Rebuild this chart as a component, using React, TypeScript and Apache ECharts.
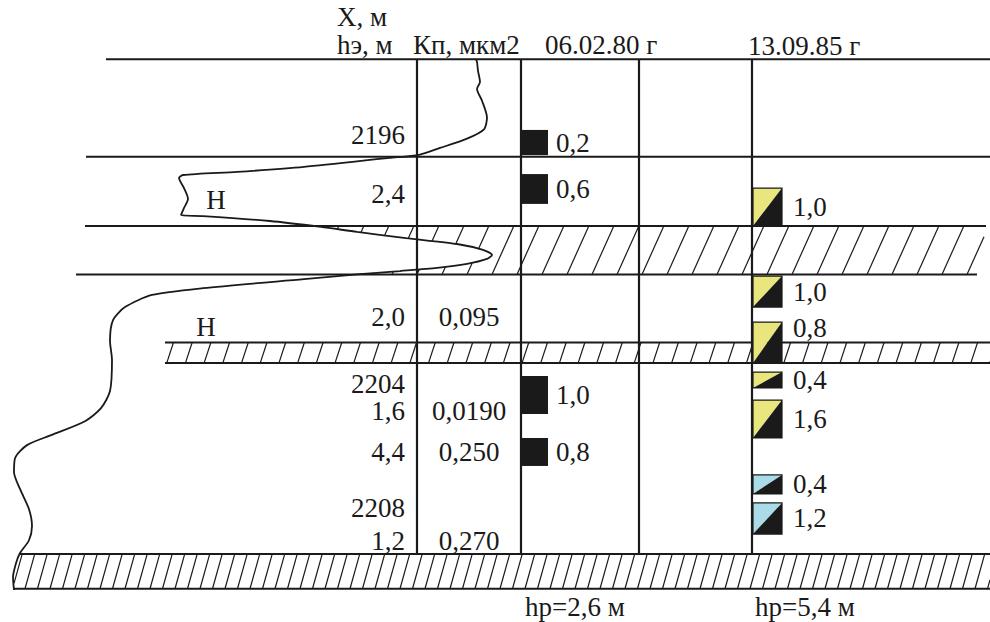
import { useEffect, useRef } from "react";
import * as echarts from "echarts";

// ---------- data ----------

// depth scale, m
const DEPTH_TOP = 2191.65;
const DEPTH_BOTTOM = 2211.66;
const depthMarks = [2196, 2200, 2204, 2208];

// layer boundaries drawn across the section, m
const boundaryDepths = [2193.56, 2196.69, 2198.92, 2200.48, 2202.67, 2203.33, 2209.47, 2210.59];

// dense (impermeable) interlayers, top and bottom, m
const denseTops = [2198.92, 2202.67, 2209.47];
const denseBottoms = [2200.48, 2203.33, 2210.59];

// reservoir intervals: effective thickness hэ and permeability Кп
const intervalDepths = [2197.88, 2201.85, 2204.88, 2206.19, 2209.06];
const effThickness = ["2,4", "2,0", "1,6", "4,4", "1,2"];
const permeability = ["", "0,095", "0,0190", "0,250", "0,270"];

// oil-saturated marks "Н"
const oilSignDepths = [2198.09, 2202.17];

// log curve: [reading, depth]
const logCurve: [number, number][] = [
  [476, 2193.56], [477, 2193.64], [478, 2193.93], [480, 2194.29], [477, 2194.51],
  [482, 2194.89], [487, 2195.43], [484, 2195.81], [467, 2196.11], [440, 2196.41],
  [419, 2196.63], [389, 2196.73], [304, 2197.02], [237, 2197.18], [183, 2197.28],
  [179, 2197.38], [184, 2197.7], [188, 2198.05], [184, 2198.34], [181, 2198.57],
  [203, 2198.6], [270, 2198.76], [321, 2198.95], [357, 2199.11], [406, 2199.31],
  [457, 2199.5], [483, 2199.69], [492, 2199.85], [487, 2199.98], [467, 2200.14],
  [437, 2200.27], [400, 2200.37], [360, 2200.47], [304, 2200.63], [203, 2200.92],
  [152, 2201.14], [125, 2201.53], [113, 2201.95], [110, 2202.62], [112, 2203.23],
  [110, 2204.23], [101, 2204.78], [85, 2205.2], [51, 2205.65], [27, 2205.97],
  [15, 2206.39], [14, 2206.84], [20, 2207.38], [29, 2208.03], [32, 2208.57],
  [29, 2209.03], [20, 2209.44], [16, 2209.77], [13, 2210.22], [14, 2210.63],
];

// inflow profile, survey of 06.02.80
const survey1Values = [0.2, 0.6, 1.0, 0.8];
const survey1Tops = [2195.83, 2197.25, 2203.75, 2205.74];
const survey1Bottoms = [2196.64, 2198.21, 2204.97, 2206.64];

// inflow profile, survey of 13.09.85
const survey2Values = [1.0, 1.0, 0.8, 0.4, 1.6, 0.4, 1.2];
const survey2Tops = [2197.7, 2200.53, 2202.01, 2203.62, 2204.52, 2206.93, 2207.83];
const survey2Bottoms = [2198.92, 2201.53, 2203.33, 2204.13, 2205.74, 2207.54, 2208.83];
const survey2Fluid = ["oil", "oil", "oil", "oil", "oil", "water", "water"];

// header and footer texts
const titleDepth = "X, м";
const titleThickness = "hэ, м";
const titlePerm = "Кп, мкм2";
const survey1Date = "06.02.80 г";
const survey2Date = "13.09.85 г";
const survey1Total = "hр=2,6 м";
const survey2Total = "hр=5,4 м";

// ---------- layout & style ----------

const W = 990;
const H = 622;
const FONT = '"Liberation Serif", "Times New Roman", serif';
const INK = "#1a1a1a";
const TEXT_SIZE = 27;
const OIL_FILL = "#e8e67c";
const WATER_FILL = "#a9dbe9";

// column edges on the track
const X_KP = 417;
const X_S1 = 521;
const X_MID = 639;
const X_S2 = 752;
const S1_W = 27;
const S2_W = 30;

const boundarySpans = [
  [106, 990], [86, 990], [85, 986], [76, 977], [165, 990], [165, 990], [20, 990], [14, 990],
];
const hatchStyle = [
  { from: 85, to: 984, step: 25, slant: 0.45, phase: 492 },
  { from: 165, to: 990, step: 18.7, slant: 0.33, phase: 166.7 },
  { from: 14, to: 990, step: 12.5, slant: 0.28, phase: 25 },
];
const oilSignX = [216, 206];
const survey2LabelAtTop = [false, false, true, false, false, false, false];

const fmt = (v: number) => v.toFixed(1).replace(".", ",");

function curveXAt(d: number): number {
  for (let i = 1; i < logCurve.length; i++) {
    const [x0, d0] = logCurve[i - 1];
    const [x1, d1] = logCurve[i];
    if (d >= d0 && d <= d1) {
      const t = d1 === d0 ? 0 : (d - d0) / (d1 - d0);
      return x0 + (x1 - x0) * t;
    }
  }
  return logCurve[logCurve.length - 1][0];
}

const textStyle = (text: string) => ({
  text,
  fill: INK,
  fontSize: TEXT_SIZE,
  fontFamily: FONT,
  verticalAlign: "middle",
});

const textEl = (text: string, x: number, y: number, align: string) => ({
  type: "text",
  style: { ...textStyle(text), x, y, align },
});

const lineEl = (x1: number, y1: number, x2: number, y2: number, w: number) => ({
  type: "line",
  shape: { x1, y1, x2, y2 },
  style: { stroke: INK, lineWidth: w },
});

function buildOption(): any {
  return {
    animation: false,
    backgroundColor: "#ffffff",
    grid: { left: 0, right: 0, top: 0, bottom: 0 },
    xAxis: { type: "value", min: 0, max: W, show: false },
    yAxis: {
      type: "value",
      inverse: true,
      min: DEPTH_TOP,
      max: DEPTH_BOTTOM,
      position: "left",
      offset: -X_KP,
      axisLine: { show: false },
      axisTick: { show: false },
      splitLine: { show: false },
      axisLabel: {
        customValues: depthMarks,
        formatter: (v: number) => String(v),
        margin: 12,
        color: INK,
        fontSize: TEXT_SIZE,
        fontFamily: FONT,
      },
    },
    graphic: [
      { type: "text", x: 337, y: 17, style: textStyle(titleDepth) },
      { type: "text", x: 337, y: 45, style: textStyle(titleThickness) },
      { type: "text", x: 413, y: 45, style: textStyle(titlePerm) },
      { type: "text", x: 545, y: 45, style: textStyle(survey1Date) },
      { type: "text", x: 748, y: 46, style: textStyle(survey2Date) },
      { type: "text", x: 525, y: 607, style: textStyle(survey1Total) },
      { type: "text", x: 755, y: 607, style: textStyle(survey2Total) },
    ],
    series: [
      // hatching of dense interlayers
      {
        type: "custom",
        silent: true,
        z: 1,
        data: denseTops.map((t, i) => [hatchStyle[i].from, t, denseBottoms[i]]),
        renderItem: (params: any, api: any) => {
          const i = params.dataIndex;
          const s = hatchStyle[i];
          const [xL, yT] = api.coord([s.from, denseTops[i]]);
          const [xR, yB] = api.coord([s.to, denseBottoms[i]]);
          const h = yB - yT;
          const dx = s.slant * h;
          const px0 = api.coord([s.phase, denseTops[i]])[0];
          const step = api.coord([s.phase + s.step, denseTops[i]])[0] - px0;
          const kMin = Math.floor((xL - dx - px0) / step);
          const kMax = Math.ceil((xR - px0) / step);
          const children: any[] = [];
          for (let k = kMin; k <= kMax; k++) {
            const xb = px0 + k * step;
            const t0 = Math.max(0, (xL - xb) / dx);
            const t1 = Math.min(1, (xR - xb) / dx);
            if (t1 <= t0) continue;
            children.push(lineEl(xb + dx * t0, yB - h * t0, xb + dx * t1, yB - h * t1, 1.2));
          }
          return { type: "group", children };
        },
      },
      // hatching stops at the log curve
      {
        type: "custom",
        silent: true,
        z: 2,
        data: denseTops.map((t, i) => [0, t, denseBottoms[i]]),
        renderItem: (params: any, api: any) => {
          const i = params.dataIndex;
          const top = denseTops[i];
          const bot = denseBottoms[i];
          const pts: number[][] = [api.coord([0, top]), api.coord([curveXAt(top), top])];
          for (const [x, d] of logCurve) if (d > top && d < bot) pts.push(api.coord([x, d]));
          pts.push(api.coord([curveXAt(bot), bot]));
          pts.push(api.coord([0, bot]));
          return { type: "polygon", shape: { points: pts }, style: { fill: "#ffffff" } };
        },
      },
      // layer boundaries
      {
        type: "custom",
        silent: true,
        z: 3,
        data: boundaryDepths.map((d, i) => [boundarySpans[i][0], d]),
        renderItem: (params: any, api: any) => {
          const i = params.dataIndex;
          const a = api.coord([boundarySpans[i][0], boundaryDepths[i]]);
          const b = api.coord([boundarySpans[i][1], boundaryDepths[i]]);
          return lineEl(a[0], a[1], b[0], b[1], 2);
        },
      },
      // column separators
      {
        type: "custom",
        silent: true,
        z: 3,
        data: [X_KP, X_S1, X_MID, X_S2].map((x) => [x, boundaryDepths[0]]),
        renderItem: (params: any, api: any) => {
          const x = api.value(0);
          const a = api.coord([x, boundaryDepths[0]]);
          const b = api.coord([x, denseTops[2]]);
          return lineEl(a[0], a[1], b[0], b[1], 2.2);
        },
      },
      // survey 1 inflow intervals
      {
        type: "custom",
        silent: true,
        z: 4,
        data: survey1Values.map((v, i) => [X_S1, survey1Tops[i], survey1Bottoms[i], v]),
        renderItem: (params: any, api: any) => {
          const a = api.coord([api.value(0), api.value(1)]);
          const b = api.coord([api.value(0), api.value(2)]);
          return {
            type: "group",
            children: [
              { type: "rect", shape: { x: a[0], y: a[1], width: S1_W, height: b[1] - a[1] }, style: { fill: INK } },
              textEl(fmt(api.value(3)), a[0] + S1_W + 8, (a[1] + b[1]) / 2, "left"),
            ],
          };
        },
      },
      // survey 2 inflow intervals
      {
        type: "custom",
        silent: true,
        z: 4,
        data: survey2Values.map((v, i) => [X_S2, survey2Tops[i], survey2Bottoms[i], v]),
        renderItem: (params: any, api: any) => {
          const i = params.dataIndex;
          const a = api.coord([api.value(0), api.value(1)]);
          const b = api.coord([api.value(0), api.value(2)]);
          const x0 = a[0] + 1;
          const x1 = a[0] + S2_W;
          const y0 = a[1];
          const y1 = b[1];
          const fill = survey2Fluid[i] === "water" ? WATER_FILL : OIL_FILL;
          const ly = survey2LabelAtTop[i] ? y0 + 6 : (y0 + y1) / 2;
          return {
            type: "group",
            children: [
              { type: "polygon", shape: { points: [[x0, y0], [x1, y0], [x0, y1]] }, style: { fill } },
              { type: "polygon", shape: { points: [[x1, y0], [x1, y1], [x0, y1]] }, style: { fill: INK } },
              { type: "rect", shape: { x: x0, y: y0, width: x1 - x0, height: y1 - y0 }, style: { fill: "none", stroke: INK, lineWidth: 1.2 } },
              textEl(fmt(api.value(3)), x1 + 11, ly, "left"),
            ],
          };
        },
      },
      // log curve
      {
        type: "line",
        silent: true,
        z: 5,
        data: logCurve,
        smooth: 0.25,
        symbol: "none",
        clip: false,
        lineStyle: { color: INK, width: 1.8 },
      },
      // hэ and Кп values
      {
        type: "custom",
        silent: true,
        z: 6,
        data: intervalDepths.map((d) => [X_KP, d]),
        renderItem: (params: any, api: any) => {
          const i = params.dataIndex;
          const p = api.coord([X_KP, intervalDepths[i]]);
          const mid = api.coord([(X_KP + X_S1) / 2, intervalDepths[i]]);
          return {
            type: "group",
            children: [
              textEl(effThickness[i], p[0] - 12, p[1], "right"),
              textEl(permeability[i], mid[0], mid[1], "center"),
            ],
          };
        },
      },
      // oil-saturation marks
      {
        type: "custom",
        silent: true,
        z: 6,
        data: oilSignDepths.map((d, i) => [oilSignX[i], d]),
        renderItem: (params: any, api: any) => {
          const p = api.coord([api.value(0), api.value(1)]);
          return textEl("Н", p[0], p[1], "center");
        },
      },
    ],
  };
}

export default function App() {
  const ref = useRef<HTMLDivElement>(null);
  useEffect(() => {
    if (!ref.current) return;
    const chart = echarts.init(ref.current, undefined, { renderer: "svg" });
    chart.setOption(buildOption());
    return () => chart.dispose();
  }, []);
  return (
    <div
      ref={ref}
      style={{ position: "fixed", left: 0, top: 0, width: W, height: H, background: "#ffffff" }}
    />
  );
}
